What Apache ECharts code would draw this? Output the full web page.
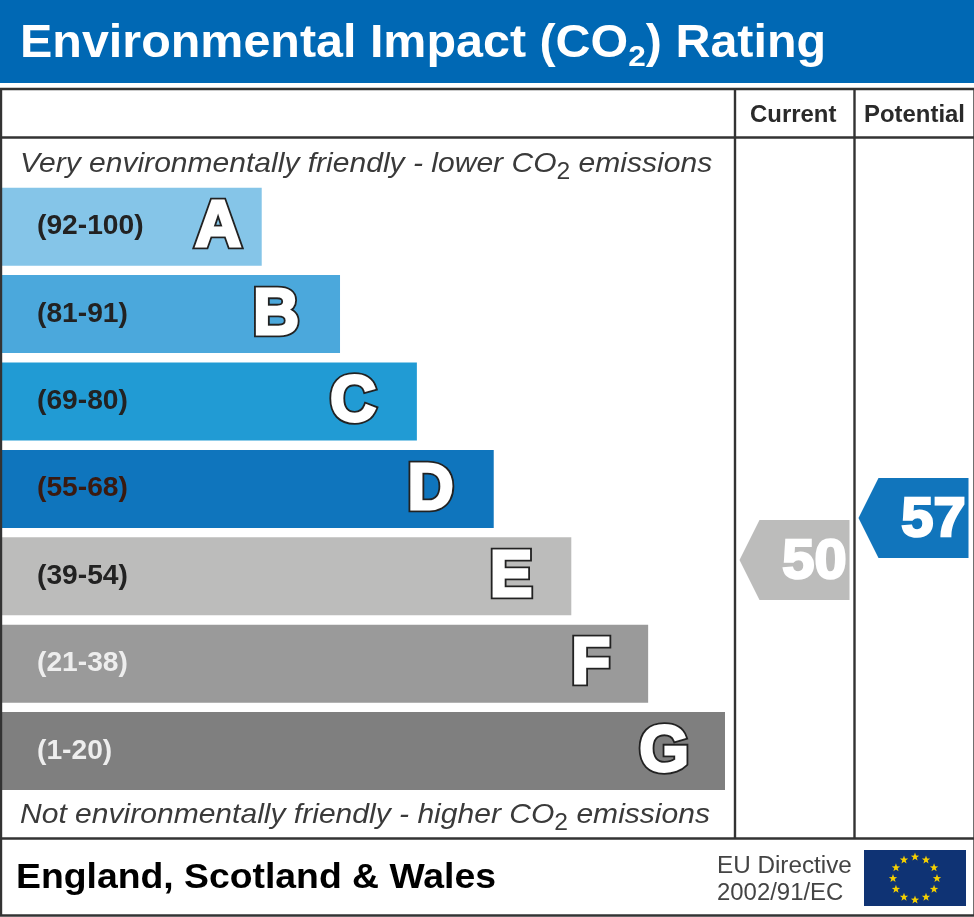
<!DOCTYPE html>
<html><head><meta charset="utf-8">
<style>html,body{margin:0;padding:0;background:#fff}#c{width:974px;height:917px}</style>
<script src="https://cdn.jsdelivr.net/npm/echarts@6/dist/echarts.min.js"></script>
</head><body><div id="c"></div>
<script>
const bands = ['A','B','C','D','E','F','G'];
const ranges = ['(92-100)','(81-91)','(69-80)','(55-68)','(39-54)','(21-38)','(1-20)'];
const barLengths = [36.1,46.9,57.5,68.1,78.8,89.4,100];
const letterCentres = [30.1,38.1,48.7,59.4,70.5,81.5,91.6];
const barColors = ['#85c5e8','#4ba8dc','#219bd4','#0f75bd','#bcbcbb','#9a9a9a','#7f7f7f'];
const rangeColors = ['#222','#222','#222','#3a1a10','#222','#eee','#eee'];
const columns = ['Current','Potential'];
const ratings = [50,57];
const ratingColors = ['#bcbcbb','#1175bc'];
const title = 'Environmental Impact (CO';
const FONT = '"Liberation Sans", Arial, sans-serif';
const frame = '#333';

function hline(y,x1,x2){return {type:'line',silent:true,z:20,shape:{x1:x1,y1:y,x2:x2,y2:y},style:{stroke:frame,lineWidth:2.4}};}
function vline(x,y1,y2){return {type:'line',silent:true,z:20,shape:{x1:x,y1:y1,x2:x,y2:y2},style:{stroke:frame,lineWidth:2.4}};}
function txt(x,y,text,size,weight,color,sx){
  return {type:'text',silent:true,x:x,y:y,scaleX:sx||1,style:{text:text,fontFamily:FONT,fontSize:size,fontWeight:weight,fill:color,verticalAlign:'middle'}};
}
function italicCO2(x,y,a,b,sx){
  return {type:'text',silent:true,x:x,y:y,scaleX:sx,style:{fontFamily:FONT,verticalAlign:'middle',text:'{a|'+a+'}{s|2}{a|'+b+'}',
    rich:{a:{fontFamily:FONT,fontSize:28,fontStyle:'italic',fill:'#3a3a3a',verticalAlign:'bottom',padding:[0,0,6,0]},
          s:{fontFamily:FONT,fontSize:23,fill:'#3a3a3a',verticalAlign:'bottom'}}}};
}
const graphics = [
  {type:'rect',silent:true,shape:{x:0,y:0,width:974,height:83},style:{fill:'#0068b4'}},
  {type:'text',silent:true,x:20,y:47,scaleX:1.053,style:{text:'{a|'+title+'}{s|2}{a|) Rating}',fontFamily:FONT,verticalAlign:'middle',
    rich:{a:{fontFamily:FONT,fontSize:46,fontWeight:'bold',fill:'#fff',verticalAlign:'bottom',padding:[0,0,6,0]},
          s:{fontFamily:FONT,fontSize:30,fontWeight:'bold',fill:'#fff',verticalAlign:'bottom'}}}},
  hline(89,0,974),hline(137.5,0,974),hline(838.5,0,974),hline(915.5,0,974),
  vline(1,88,916),vline(974.5,88,916),vline(735,88,838),vline(854.5,88,838),
  txt(750,116,columns[0],23,'bold','#2a2a2a',1.04),
  txt(864,116,columns[1],23,'bold','#2a2a2a',1.04),
  italicCO2(20,167.5,'Very environmentally friendly - lower CO',' emissions',1.073),
  italicCO2(20,818.5,'Not environmentally friendly - higher CO',' emissions',1.073),
  txt(16,878,'England, Scotland & Wales',35,'bold','#000',1.067),
  txt(717,866.5,'EU Directive',23,'normal','#444',1.055),
  txt(717,893.5,'2002/91/EC',23,'normal','#444',1.04),
  {type:'rect',silent:true,shape:{x:864,y:850,width:102,height:56},style:{fill:'#0f3374'}}
];
for(let i=0;i<12;i++){
  const a=i*Math.PI/6, cx=915+22*Math.sin(a), cy=878.5-21.5*Math.cos(a), pts=[];
  for(let k=0;k<10;k++){
    const r=k%2?1.8:4.4, t=k*Math.PI/5;
    pts.push([cx+r*Math.sin(t),cy-r*Math.cos(t)]);
  }
  graphics.push({type:'polygon',silent:true,shape:{points:pts},style:{fill:'#f5d000'}});
}
const option = {
  animation:false,
  backgroundColor:'#fff',
  grid:[
    {left:0,width:725,top:183,height:611.8},
    {left:735,width:238,top:260,height:600}
  ],
  xAxis:[
    {gridIndex:0,type:'value',min:0,max:100,show:false},
    {gridIndex:1,type:'category',data:columns,show:false}
  ],
  yAxis:[
    {gridIndex:0,type:'category',data:bands,inverse:true,show:false},
    {gridIndex:1,type:'value',min:0,max:100,show:false}
  ],
  graphic:{elements:graphics},
  series:[
    {type:'bar',xAxisIndex:0,yAxisIndex:0,barWidth:78,silent:true,
     data:barLengths.map((v,i)=>({value:v,itemStyle:{color:barColors[i]}}))},
    {type:'custom',xAxisIndex:0,yAxisIndex:0,silent:true,z:5,
     encode:{x:0,y:1},
     data:letterCentres.map((v,i)=>[v,i]),
     renderItem:(p,api)=>{
       const i=p.dataIndex, c=api.coord([letterCentres[i],i]);
       const s={text:bands[i],fontFamily:FONT,fontWeight:'bold',fontSize:64,align:'center',verticalAlign:'middle'};
       return {type:'group',children:[
         {type:'text',x:37,y:c[1],scaleX:1.045,style:{text:ranges[i],fontFamily:FONT,fontWeight:'bold',fontSize:27,fill:rangeColors[i],verticalAlign:'middle'}},
         {type:'text',x:c[0],y:c[1]+2,style:Object.assign({},s,{fill:'#222',stroke:'#222',lineWidth:6.5,lineJoin:'miter'})},
         {type:'text',x:c[0],y:c[1]+2,style:Object.assign({},s,{fill:'#fff',stroke:'#fff',lineWidth:2.8})}
       ]};
     }},
    {type:'custom',xAxisIndex:1,yAxisIndex:1,silent:true,z:5,
     encode:{x:0,y:1},
     data:ratings.map((v,i)=>[i,v]),
     renderItem:(p,api)=>{
       const i=p.dataIndex, c=api.coord([i,ratings[i]]), x=c[0], y=c[1];
       return {type:'group',children:[
         {type:'polygon',shape:{points:[[x-55,y],[x-35,y-40],[x+55,y-40],[x+55,y+40],[x-35,y+40]]},style:{fill:ratingColors[i]}},
         {type:'text',x:x+52,y:y+3,scaleX:1.05,style:{text:String(ratings[i]),fontFamily:FONT,fontWeight:'bold',fontSize:55,fill:'#fff',stroke:'#fff',lineWidth:2.5,align:'right',verticalAlign:'middle'}}
       ]};
     }}
  ]
};
echarts.init(document.getElementById('c')).setOption(option);
</script></body></html>
